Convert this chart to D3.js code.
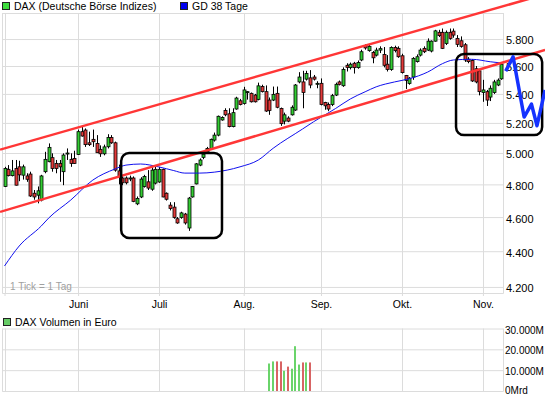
<!DOCTYPE html>
<html>
<head>
<meta charset="utf-8">
<script src="https://cdn.jsdelivr.net/npm/d3@7"></script>
<style>
body { margin: 0; background: #fff; }
svg { display: block; font-family: "Liberation Sans", Arial, sans-serif; }
</style>
</head>
<body>
<div id="graph"></div>
<script>
// Tageskerzen DAX, Mai bis Nov. (1 Tick = 1 Tag)
var eroeffnung = [4787,4895,4855,4900,4911,4858,4853,4865,4745,4733,4703,4880,4944,4970,4933,4933,4880,4995,4959,4965,
    4990,5141,5152,5067,5090,5063,5024,4995,5041,5102,5067,4885,4840,4840,4835,4840,4680,4722,4787,4816,
    4770,4808,4815,4895,4745,4672,4660,4590,4598,4618,4535,4722,4803,4922,4972,5008,5030,5085,5118,5220,
    5285,5262,5175,5295,5352,5333,5410,5404,5392,5362,5452,5416,5357,5357,5404,5299,5212,5233,5255,5288,
    5485,5485,5505,5514,5520,5470,5475,5340,5326,5326,5392,5485,5458,5605,5588,5620,5588,5644,5752,5713,
    5700,5680,5717,5685,5613,5575,5737,5730,5675,5531,5474,5520,5632,5680,5730,5717,5710,5784,5851,5851,
    5767,5851,5860,5805,5787,5757,5650,5640,5580,5565,5410,5416,5378,5410,5463,5507];
var hoch = [4911,4922,4955,4955,4950,4925,4870,4880,4765,4787,4860,5008,5063,4998,4955,4955,4998,5030,4998,5015,
    5155,5175,5163,5141,5155,5118,5050,5055,5124,5118,5075,4925,4850,4850,4855,4850,4725,4845,4860,4890,
    4910,4910,4910,4900,4750,4690,4690,4600,4632,4625,4722,4790,4935,4965,5000,5040,5095,5135,5250,5245,
    5300,5300,5300,5380,5365,5450,5420,5410,5400,5480,5465,5460,5375,5452,5452,5305,5270,5245,5320,5470,
    5555,5565,5565,5570,5535,5490,5510,5345,5340,5400,5480,5495,5590,5620,5625,5630,5640,5720,5760,5755,
    5710,5735,5745,5740,5680,5745,5750,5745,5690,5535,5520,5665,5685,5730,5745,5805,5790,5870,5870,5880,
    5865,5880,5880,5830,5820,5770,5665,5650,5600,5570,5500,5428,5460,5500,5510,5620];
var tief = [4783,4850,4850,4793,4820,4830,4816,4722,4705,4683,4695,4870,4940,4880,4870,4816,4795,4955,4911,4930,
    4987,5108,5040,5046,5040,5000,4975,4985,5030,5060,4880,4800,4795,4800,4820,4690,4672,4715,4780,4765,
    4760,4800,4810,4720,4700,4640,4590,4560,4590,4555,4518,4718,4800,4915,4960,5000,5025,5075,5110,5215,
    5245,5170,5170,5290,5320,5325,5360,5340,5340,5355,5410,5275,5255,5350,5300,5180,5190,5205,5250,5282,
    5475,5300,5495,5440,5495,5440,5320,5290,5280,5315,5385,5460,5450,5560,5575,5545,5580,5635,5720,5705,
    5620,5670,5695,5590,5560,5565,5700,5660,5545,5435,5465,5500,5625,5670,5695,5710,5700,5780,5815,5725,
    5755,5795,5810,5740,5735,5630,5620,5485,5475,5390,5345,5316,5350,5400,5455,5500];
var schluss = [4900,4855,4885,4795,4860,4911,4832,4728,4722,4760,4853,4959,5037,4900,4900,4911,4987,5000,4933,4933,
    5141,5112,5055,5055,5074,5002,4995,5040,5102,5067,4890,4845,4810,4810,4840,4695,4713,4833,4850,4777,
    4890,4895,4895,4722,4708,4652,4598,4565,4625,4565,4715,4787,4930,4955,4993,5030,5090,5118,5245,5237,
    5255,5175,5270,5371,5326,5428,5416,5345,5345,5457,5416,5281,5285,5397,5307,5195,5255,5212,5307,5463,
    5520,5410,5545,5463,5505,5475,5326,5317,5295,5388,5468,5468,5575,5590,5613,5588,5625,5705,5733,5745,
    5660,5717,5728,5605,5575,5737,5713,5668,5552,5496,5512,5656,5668,5717,5705,5784,5784,5862,5826,5730,
    5851,5805,5830,5760,5745,5644,5632,5492,5485,5416,5428,5357,5440,5485,5498,5613];

// GD 38 Tage
var gdTage  = [0,4,10,12,18,24,30,33,37,42,46,49,53,57,64,69,73,81,84,87,90,94,98,101,106,110,115,119,122,127,132,135];
var gdWerte = [4316,4430,4547,4594,4703,4827,4897,4922,4929,4910,4887,4871,4871,4877,4911,4955,5031,5159,5208,5253,
    5299,5365,5415,5450,5485,5508,5556,5617,5644,5649,5631,5622];

var monatTage  = [0, 20, 42, 65, 86, 108, 130];
var monatNamen = ["", "Juni", "Juli", "Aug.", "Sep.", "Okt.", "Nov."];
var kursTicks  = [4200, 4400, 4600, 4800, 5000, 5200, 5400, 5600, 5800, 6000];

var volumenTage  = [72,73,74,75,76,77,78,79,80,81,82,83];
var volumenWerte = [13200,14200,14200,14200,9700,11700,10700,21500,12700,13700,13700,13700];
var volumenTicks = [0, 10000, 20000, 30000];
var volumenLabels = ["0Mrd", "10.000M", "20.000M", "30.000M"];

// eingezeichnete Hilfslinien (Tag, Kurs)
var trendOben  = [[-1.2, 5022], [146.9, 6148]];
var trendUnten = [[-1.2, 4631], [146.9, 5718]];
var boxen = [
    {von: 31.7, bis: 59.1, oben: 5000, unten: 4476},
    {von: 122.7, bis: 146.1, oben: 5688, unten: 5118}
];
var prognose = [[136.2, 5563], [138.2, 5668], [141.2, 5240], [143.2, 5329], [144.7, 5181], [146.9, 5428]];

function dessinDax() {
    var links = 2.5, rechts = 503,
        oben = 13, unten = 293,
        volOben = 328.5, volUnten = 391,
        gitter = "#dcdcdc",
        gruen = "#33cc33", rot = "#e23a3a",

        svg = d3.select("#graph")
            .append("svg")
                .attr("width", 545)
                .attr("height", 395),

        x = d3.scaleLinear()
            .domain([0, 135])
            .range([4.5, 4.5 + 3.68 * 135]),

        y = d3.scaleLog()
            .domain([4167, 6000])
            .range([unten, oben]),

        yVol = d3.scaleLinear()
            .domain([0, 30000])
            .range([volUnten, volOben]),

        de = d3.formatLocale({decimal: ",", thousands: ".", grouping: [3], currency: ["", " €"]}),
        fmt = de.format(",d");

    // Legenden
    svg.append("rect").attr("x", 2.5).attr("y", 2.5).attr("width", 7).attr("height", 7)
        .style("fill", "#3ddc3d").style("stroke", "#222");
    svg.append("text").attr("x", 14).attr("y", 10).style("font-size", "10.5px").text("DAX (Deutsche Börse Indizes)");
    svg.append("rect").attr("x", 180.5).attr("y", 2.5).attr("width", 7).attr("height", 7)
        .style("fill", "#0000ee").style("stroke", "#222");
    svg.append("text").attr("x", 192).attr("y", 10).style("font-size", "10.5px").text("GD 38 Tage");

    svg.append("rect").attr("x", 3.5).attr("y", 318.5).attr("width", 7).attr("height", 7)
        .style("fill", "#66cc66").style("stroke", "#222");
    svg.append("text").attr("x", 15).attr("y", 326).style("font-size", "10.5px").text("DAX Volumen in Euro");

    // Gitter Kurs
    svg.append("g")
        .attr("transform", "translate(" + rechts + ",0)")
        .call(d3.axisRight(y).tickValues(kursTicks).tickSize(-(rechts - links)).tickPadding(3)
            .tickFormat(function (d) { return d === 6000 ? "" : fmt(d); }))
        .call(function (g) {
            g.select(".domain").remove();
            g.selectAll("line").style("stroke", gitter);
            g.selectAll("text").attr("dy", "0.45em").style("font-size", "11px").style("fill", "#000")
                .style("font-family", "\"Liberation Sans\", Arial, sans-serif");
        });

    svg.selectAll(".monat")
        .data(monatTage)
        .enter()
        .append("line")
        .attr("x1", function (d) { return Math.round(x(d)) + 0.5; })
        .attr("x2", function (d) { return Math.round(x(d)) + 0.5; })
        .attr("y1", oben)
        .attr("y2", unten)
        .style("stroke", gitter);

    svg.append("g")
        .attr("transform", "translate(0," + unten + ")")
        .call(d3.axisBottom(x).tickValues(monatTage).tickSizeInner(3).tickSizeOuter(0).tickPadding(5)
            .tickFormat(function (d, i) { return monatNamen[i]; }))
        .call(function (g) {
            g.select(".domain").remove();
            g.selectAll("line").style("stroke", gitter);
            g.selectAll("text").style("font-size", "10.5px").style("fill", "#000")
                .style("font-family", "\"Liberation Sans\", Arial, sans-serif");
        });

    // Rahmen
    svg.append("path")
        .attr("d", "M" + links + "," + oben + "V" + (unten + 0.5) + "H" + (rechts + 0.5) + "V" + oben)
        .style("fill", "none").style("stroke", gitter);

    svg.append("text").attr("x", 10).attr("y", 290)
        .style("font-size", "10px").style("fill", "#a0a0a0").text("1 Tick = 1 Tag");

    // Kerzen
    var kerzen = svg.append("g").selectAll("g")
        .data(d3.range(schluss.length))
        .enter()
        .append("g");
    kerzen.append("line")
        .attr("x1", function (i) { return Math.round(x(i)) + 0.5; })
        .attr("x2", function (i) { return Math.round(x(i)) + 0.5; })
        .attr("y1", function (i) { return y(hoch[i]); })
        .attr("y2", function (i) { return y(tief[i]); })
        .style("stroke", "#000");
    kerzen.append("rect")
        .attr("x", function (i) { return Math.round(x(i)) - 1; })
        .attr("y", function (i) { return y(Math.max(eroeffnung[i], schluss[i])); })
        .attr("width", 3)
        .attr("height", function (i) {
            return Math.max(1, Math.abs(y(eroeffnung[i]) - y(schluss[i])));
        })
        .style("fill", function (i) { return schluss[i] >= eroeffnung[i] ? gruen : rot; })
        .style("stroke", "#000")
        .style("stroke-width", 0.8);

    // GD 38
    svg.append("path")
        .datum(d3.zip(gdTage, gdWerte))
        .attr("fill", "none")
        .attr("stroke", "#1010ee")
        .attr("stroke-width", 1)
        .attr("d", d3.line()
            .x(function (d) { return x(d[0]); })
            .y(function (d) { return y(d[1]); })
            .curve(d3.curveMonotoneX));

    // Volumen
    svg.append("g")
        .attr("transform", "translate(" + rechts + ",0)")
        .call(d3.axisRight(yVol).tickValues(volumenTicks).tickSize(-(rechts - links)).tickPadding(2)
            .tickFormat(function (d, i) { return volumenLabels[i]; }))
        .call(function (g) {
            g.select(".domain").remove();
            g.selectAll("line").style("stroke", gitter);
            g.selectAll("text")
                .attr("dy", function (d) { return d === 0 ? "0.2em" : "0.45em"; })
                .style("font-size", "10px").style("fill", "#000")
                .style("font-family", "\"Liberation Sans\", Arial, sans-serif");
        });
    svg.selectAll(".volmonat")
        .data(monatTage)
        .enter()
        .append("line")
        .attr("x1", function (d) { return Math.round(x(d)) + 0.5; })
        .attr("x2", function (d) { return Math.round(x(d)) + 0.5; })
        .attr("y1", volOben)
        .attr("y2", volUnten)
        .style("stroke", gitter);
    svg.append("path")
        .attr("d", "M" + links + "," + volOben + "V" + (volUnten + 0.5) + "H" + (rechts + 0.5) + "V" + volOben)
        .style("fill", "none").style("stroke", gitter);

    svg.selectAll(".vol")
        .data(d3.zip(volumenTage, volumenWerte))
        .enter()
        .append("rect")
        .attr("x", function (d) { return Math.round(x(d[0])) - 1; })
        .attr("y", function (d) { return yVol(d[1]); })
        .attr("width", 2)
        .attr("height", function (d) { return yVol(0) - yVol(d[1]); })
        .style("fill", function (d) {
            return schluss[d[0]] >= schluss[d[0] - 1] ? "#6ad46a" : "#d86464";
        });

    // Trendkanal
    [trendOben, trendUnten].forEach(function (t) {
        svg.append("line")
            .attr("x1", x(t[0][0])).attr("y1", y(t[0][1]))
            .attr("x2", x(t[1][0])).attr("y2", y(t[1][1]))
            .style("stroke", "#ff3636")
            .style("stroke-width", 2.5);
    });

    svg.selectAll(".box")
        .data(boxen)
        .enter()
        .append("rect")
        .attr("x", function (d) { return x(d.von); })
        .attr("y", function (d) { return y(d.oben); })
        .attr("width", function (d) { return x(d.bis) - x(d.von); })
        .attr("height", function (d) { return y(d.unten) - y(d.oben); })
        .attr("rx", 8)
        .style("fill", "none")
        .style("stroke", "#000")
        .style("stroke-width", 2.5);

    svg.append("path")
        .datum(prognose)
        .attr("fill", "none")
        .attr("stroke", "#1432ff")
        .attr("stroke-width", 3.5)
        .attr("stroke-linejoin", "round")
        .attr("d", d3.line()
            .x(function (d) { return x(d[0]); })
            .y(function (d) { return y(d[1]); }));
}

dessinDax();
</script>
</body>
</html>
